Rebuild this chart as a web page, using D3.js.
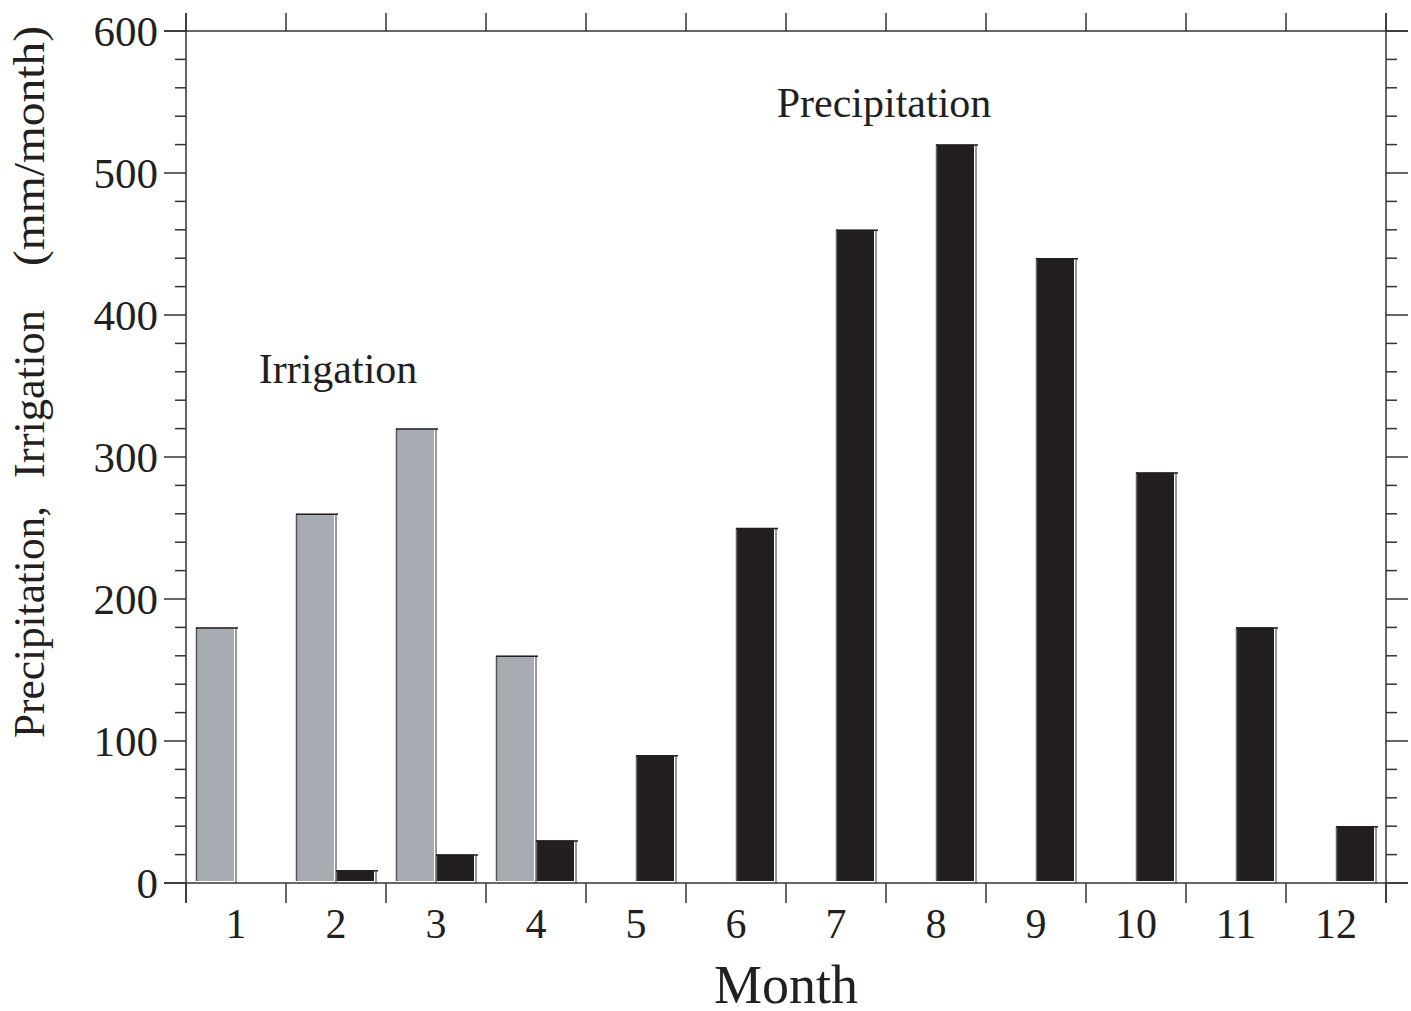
<!DOCTYPE html>
<html>
<head>
<meta charset="utf-8">
<script src="https://cdn.jsdelivr.net/npm/d3@7"></script>
<style>
  html, body { margin: 0; padding: 0; background: #fff; }
  svg { display: block; font-family: "Liberation Serif", "Times New Roman", serif; }
</style>
</head>
<body>
<svg id="chart" width="1411" height="1011"></svg>
<script>
// Monthly irrigation and precipitation (mm/month)
const months = [1, 2, 3, 4, 5, 6, 7, 8, 9, 10, 11, 12];
const irrigation = [180, 260, 320, 160, null, null, null, null, null, null, null, null];
const precipitation = [null, 9, 20, 30, 90, 250, 460, 520, 440, 289, 180, 40];
const yTicks = [0, 100, 200, 300, 400, 500, 600];
const xTickLabels = ["1", "2", "3", "4", "5", "6", "7", "8", "9", "10", "11", "12"];

const W = 1411, H = 1011;
const margin = { left: 186, right: 25, top: 31, bottom: 128 };
const x0 = margin.left, x1 = W - margin.right;
const y0 = H - margin.bottom, y1 = margin.top;

const svg = d3.select("#chart");
const x = d3.scaleLinear().domain([0.5, 12.5]).range([x0, x1]);
const y = d3.scaleLinear().domain([0, 600]).range([y0, y1]);

const ink = "#231f20";
const axisCol = "#333";
const labelSize = 42;

// Bars: filled body, thin white gap, then a right edge line and a top line
function drawBars(values, offset, fill, edge) {
  const g = svg.append("g");
  months.forEach((m, i) => {
    const v = values[i];
    if (v == null) return;
    const left = x(m + offset);
    const right = x(m + offset + 0.42);
    const top = y(v);
    const base = y(0) - 2;
    g.append("rect")
      .attr("x", left).attr("y", top)
      .attr("width", right - left - 4).attr("height", base - top)
      .attr("fill", fill);
    g.append("line")
      .attr("x1", left + 0.5).attr("x2", left + 0.5)
      .attr("y1", top).attr("y2", base)
      .attr("stroke", edge).attr("stroke-width", 1.5);
    g.append("line")
      .attr("x1", right - 2).attr("x2", right - 2)
      .attr("y1", top).attr("y2", y(0))
      .attr("stroke", "#555").attr("stroke-width", 1.2);
    g.append("line")
      .attr("x1", left).attr("x2", right)
      .attr("y1", top + 0.5).attr("y2", top + 0.5)
      .attr("stroke", ink).attr("stroke-width", 1.5);
  });
}
drawBars(irrigation, -0.4, "#a7acb3", "#555");
drawBars(precipitation, 0, ink, "#666");

// Frame
const frame = svg.append("g").attr("stroke", axisCol).attr("stroke-width", 1.5).attr("fill", "none");
frame.append("line").attr("x1", x0 - 22).attr("x2", x1 + 22).attr("y1", y0).attr("y2", y0);
frame.append("line").attr("x1", x0 - 22).attr("x2", x1 + 22).attr("y1", y1).attr("y2", y1);
frame.append("line").attr("x1", x0).attr("x2", x0).attr("y1", y1 - 18).attr("y2", y0 + 20);
frame.append("line").attr("x1", x1).attr("x2", x1).attr("y1", y1 - 18).attr("y2", y0 + 20);

// Month boundary ticks on bottom and top
const bounds = d3.range(0.5, 13, 1);
bounds.forEach(b => {
  frame.append("line").attr("x1", x(b)).attr("x2", x(b)).attr("y1", y0).attr("y2", y0 + 20);
  frame.append("line").attr("x1", x(b)).attr("x2", x(b)).attr("y1", y1).attr("y2", y1 - 18);
});

// Y ticks: major every 100, minor every 20, outward on both sides
const minor = d3.range(0, 601, 20).filter(v => v % 100 !== 0);
minor.forEach(v => {
  frame.append("line").attr("x1", x0 - 11).attr("x2", x0).attr("y1", y(v)).attr("y2", y(v));
  frame.append("line").attr("x1", x1).attr("x2", x1 + 11).attr("y1", y(v)).attr("y2", y(v));
});
yTicks.forEach(v => {
  frame.append("line").attr("x1", x0 - 22).attr("x2", x0).attr("y1", y(v)).attr("y2", y(v));
  frame.append("line").attr("x1", x1).attr("x2", x1 + 22).attr("y1", y(v)).attr("y2", y(v));
});

// Tick labels
svg.append("g").selectAll("text").data(yTicks).join("text")
  .attr("x", x0 - 28).attr("y", d => y(d)).attr("dy", "0.35em")
  .attr("text-anchor", "end").attr("font-size", 43).attr("fill", ink)
  .text(d => d);
svg.append("g").selectAll("text").data(months).join("text")
  .attr("x", d => x(d)).attr("y", y0 + 55)
  .attr("text-anchor", "middle").attr("font-size", labelSize).attr("fill", ink)
  .text((d, i) => xTickLabels[i]);

// Axis titles
svg.append("text")
  .attr("x", x(6.5)).attr("y", 1003)
  .attr("text-anchor", "middle").attr("font-size", 54).attr("fill", ink)
  .text("Month");

// Y title drawn in three spaced pieces along the left edge
const yTitleParts = [
  { text: "Precipitation,", center: 622, len: 232 },
  { text: "Irrigation", center: 394, len: 168 },
  { text: "(mm/month)", center: 146, len: 240 }
];
svg.append("g").selectAll("text").data(yTitleParts).join("text")
  .attr("transform", d => `translate(44, ${d.center}) rotate(-90)`)
  .attr("text-anchor", "middle").attr("font-size", 44).attr("fill", ink)
  .attr("textLength", d => d.len).attr("lengthAdjust", "spacingAndGlyphs")
  .text(d => d.text);

// Series annotations
svg.append("text")
  .attr("x", 884).attr("y", 117)
  .attr("text-anchor", "middle").attr("font-size", labelSize).attr("fill", ink)
  .text("Precipitation");
svg.append("text")
  .attr("x", 338).attr("y", 383)
  .attr("text-anchor", "middle").attr("font-size", labelSize).attr("fill", ink)
  .text("Irrigation");
</script>
</body>
</html>
